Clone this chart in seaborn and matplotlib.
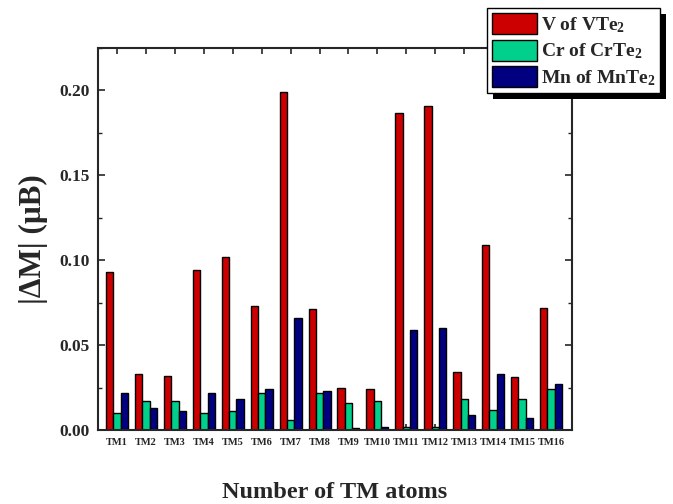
import numpy as np
import pandas as pd
import matplotlib
matplotlib.use("Agg")
import matplotlib.pyplot as plt
from matplotlib.ticker import MultipleLocator
from matplotlib.patches import Rectangle
import seaborn as sns

# values
atoms = ["TM%d" % i for i in range(1, 17)]
v_vte2 = [0.093, 0.033, 0.032, 0.094, 0.102, 0.073, 0.199, 0.071,
          0.025, 0.024, 0.187, 0.191, 0.034, 0.109, 0.031, 0.072]
cr_crte2 = [0.010, 0.017, 0.017, 0.010, 0.011, 0.022, 0.006, 0.022,
            0.016, 0.017, 0.002, 0.002, 0.018, 0.012, 0.018, 0.024]
mn_mnte2 = [0.022, 0.013, 0.011, 0.022, 0.018, 0.024, 0.066, 0.023,
            0.001, 0.002, 0.059, 0.060, 0.009, 0.033, 0.007, 0.027]
series = ["V of VTe$_2$", "Cr of CrTe$_2$", "Mn of MnTe$_2$"]
colors = ["#cc0000", "#00d08c", "#000080"]

df = pd.DataFrame({
    "atom": atoms * 3,
    "dM": v_vte2 + cr_crte2 + mn_mnte2,
    "kind": [series[0]] * 16 + [series[1]] * 16 + [series[2]] * 16,
})

sns.set_style("ticks")
plt.rcParams["font.family"] = ["Liberation Serif", "DejaVu Serif"]
plt.rcParams["font.weight"] = "bold"
plt.rcParams["mathtext.fontset"] = "custom"
plt.rcParams["mathtext.rm"] = "Liberation Serif:bold"
plt.rcParams["mathtext.it"] = "Liberation Serif:bold"
plt.rcParams["mathtext.bf"] = "Liberation Serif:bold"

fig = plt.figure(figsize=(6.73, 5.04), dpi=100)
ax = fig.add_axes([0.1456, 0.1468, 0.7044, 0.758])

sns.barplot(data=df, x="atom", y="dM", hue="kind", palette=colors, saturation=1,
            width=0.76, edgecolor="black", linewidth=1.0, ax=ax, legend=True)

ax.set_xlim(-0.66, 15.73)
ax.set_ylim(0, 0.225)
ax.yaxis.set_major_locator(MultipleLocator(0.05))
ax.yaxis.set_minor_locator(MultipleLocator(0.025))
ax.set_yticks([0, 0.05, 0.10, 0.15, 0.20])
ax.set_yticklabels(["0.00", "0.05", "0.10", "0.15", "0.20"])
ax.tick_params(axis="both", which="both", direction="in", top=True, right=True)
ax.tick_params(axis="y", which="major", length=5, width=1.2, labelsize=12.5, pad=6)
ax.tick_params(axis="y", which="minor", length=3, width=1.0)
ax.tick_params(axis="x", which="major", length=4, width=1.2, labelsize=7.5, pad=6)
for lab in ax.get_xticklabels() + ax.get_yticklabels():
    lab.set_fontweight("bold")
for sp in ax.spines.values():
    sp.set_linewidth(1.5)
    sp.set_zorder(5)

ax.set_xlabel("Number of TM atoms", fontsize=17.5, fontweight="bold", labelpad=25)
ax.set_ylabel("|\u0394M| (\u03bcB)", fontsize=22.5, fontweight="bold", labelpad=8)

ax.legend_.remove()
handles, labels = ax.get_legend_handles_labels()
leg = fig.legend(handles, labels, loc="upper right", bbox_to_anchor=(0.981, 0.984),
                 borderaxespad=0,
                 fontsize=14, frameon=True, fancybox=False, shadow=False,
                 framealpha=1, facecolor="white",
                 edgecolor="black", handlelength=2.3, handleheight=1.3,
                 handletextpad=0.2, borderpad=0.25, labelspacing=0.25)
leg.get_frame().set_linewidth(1.0)
leg.set_zorder(10)

# solid black drop shadow behind the legend box
fig.canvas.draw()
bb = leg.get_window_extent()
shadow = Rectangle((bb.x0 + 6, bb.y0 - 6), bb.width, bb.height,
                   transform=None, facecolor="black", edgecolor="none", zorder=9)
fig.add_artist(shadow)

plt.savefig("out.png", dpi=100)
